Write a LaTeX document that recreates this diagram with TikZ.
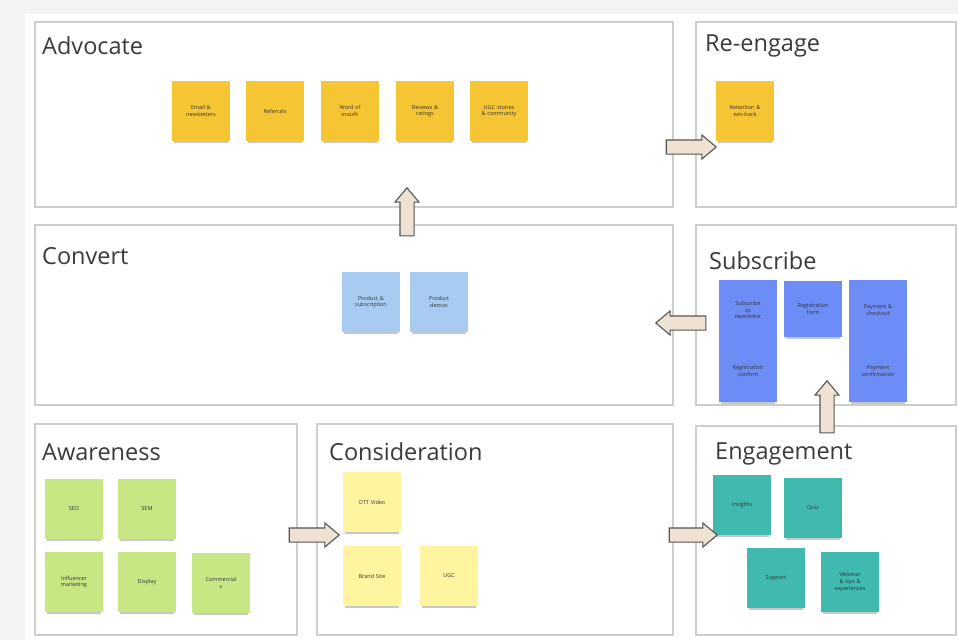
\documentclass[tikz,border=0pt]{standalone}
\usepackage{fontspec}
\setmainfont{Open Sans}
\usetikzlibrary{shapes.arrows,shadows}
\definecolor{bggray}{HTML}{F3F3F3}
\definecolor{boxline}{HTML}{CDCDCD}
\definecolor{titlecol}{HTML}{3A3A3A}
\definecolor{stYellow}{HTML}{F6C534}
\definecolor{stLightBlue}{HTML}{A8CCF1}
\definecolor{stBlue}{HTML}{6D8DF6}
\definecolor{stTeal}{HTML}{40BAAF}
\definecolor{stGreen}{HTML}{C7E785}
\definecolor{stPale}{HTML}{FFF49F}
\definecolor{arrowfill}{HTML}{EFE2D2}
\definecolor{arrowline}{HTML}{555555}
\tikzset{
  stage/.style={draw=boxline, line width=1.1pt, fill=white},
  stagetitle/.style={anchor=west, font=\fontsize{23.5}{25}\selectfont, text=titlecol, inner sep=0pt},
  sticky/.style={minimum width=58pt, minimum height=60pt, inner sep=1pt, text width=52pt, align=center,
    font=\fontsize{5.5}{6.6}\selectfont, text=black!80,
    general shadow={fill=black!70, opacity=.3, shadow yshift=-4pt, shadow scale=.94}},
  blockarrow/.style={single arrow, draw=arrowline, fill=arrowfill, line width=1.1pt,
    inner sep=6.5pt, single arrow head extend=5pt, single arrow tip angle=80, minimum height=#1},
}
\begin{document}
\begin{tikzpicture}[x=1pt,y=-1pt]
\useasboundingbox (0,0) rectangle (958,640);
\fill[bggray] (0,0) rectangle (958,640);
\fill[white] (25,14) rectangle (958,640);

% stage boxes
\draw[stage] (35,22) rectangle (673,207);
\draw[stage] (696,22) rectangle (956,207);
\draw[stage] (35,225) rectangle (673,405);
\draw[stage] (696,225) rectangle (956,405);
\draw[stage] (35,424) rectangle (297,635);
\draw[stage] (317,424) rectangle (673,635);
\draw[stage] (696,426) rectangle (956,635);

% titles
\node[stagetitle] (tAdv) at (42,46) {Advocate};
\node[stagetitle] (tRe) at (705,46) {Re-engage};
\node[stagetitle] (tConv) at (42,256) {Convert};
\node[stagetitle] (tSub) at (709,261) {Subscribe};
\node[stagetitle] (tAw) at (42,452) {Awareness};
\node[stagetitle] (tCons) at (329,452) {Consideration};
\node[stagetitle] (tEng) at (715,454) {Engagement};

% Advocate stickies
\node[sticky, fill=stYellow] (ad1) at (201,111) {Email \&\\ newsletters};
\node[sticky, fill=stYellow] (ad2) at (275,111) {Referrals};
\node[sticky, fill=stYellow] (ad3) at (350,111) {Word of\\ mouth};
\node[sticky, fill=stYellow] (ad4) at (425,111) {Reviews \&\\ ratings};
\node[sticky, fill=stYellow] (ad5) at (499,111) {UGC stories\\ \& community};
% Re-engage
\node[sticky, fill=stYellow] (re1) at (745,111) {Retention \&\\ win-back};

% Convert
\node[sticky, fill=stLightBlue] (cv1) at (371,302) {Product \&\\ subscription};
\node[sticky, fill=stLightBlue] (cv2) at (439,302) {Product\\ demos};

% Subscribe
\node[sticky, fill=stBlue, minimum height=60pt] (sb1) at (748,310) {Subscribe\\ to\\ newsletter};
\node[sticky, fill=stBlue, minimum height=62pt] (sb4) at (748,371) {Registration\\ confirm};
\node[sticky, fill=stBlue, minimum height=56pt] (sb2) at (813,309) {Registration\\ form};
\node[sticky, fill=stBlue, minimum height=60pt] (sb3) at (878,310) {Payment \&\\ checkout};
\node[sticky, fill=stBlue, minimum height=62pt] (sb5) at (878,371) {Payment\\ confirmation};

% Awareness
\node[sticky, fill=stGreen] (aw1) at (74,509) {SEO};
\node[sticky, fill=stGreen] (aw2) at (147,509) {SEM};
\node[sticky, fill=stGreen] (aw3) at (74,582) {Influencer\\ marketing};
\node[sticky, fill=stGreen] (aw4) at (147,582) {Display};
\node[sticky, fill=stGreen] (aw5) at (221,583) {Commercial\\ s};

% Consideration
\node[sticky, fill=stPale] (cs1) at (372,502) {OTT Video};
\node[sticky, fill=stPale] (cs2) at (372,576) {Brand Site};
\node[sticky, fill=stPale] (cs3) at (449,576) {UGC};

% Engagement
\node[sticky, fill=stTeal] (en1) at (742,505) {Insights};
\node[sticky, fill=stTeal] (en2) at (813,508) {Quiz};
\node[sticky, fill=stTeal] (en3) at (776,578) {Support};
\node[sticky, fill=stTeal] (en4) at (850,582) {Webinar\\ \& tips \&\\ experiences};

% block arrows
\node[blockarrow=50pt] (a1) at (687,147) {};
\node[blockarrow=48pt, shape border rotate=90] (a2) at (407,216) {};
\node[blockarrow=50pt, shape border rotate=180] (a3) at (685,323) {};
\node[blockarrow=52pt, shape border rotate=90] (a4) at (827,411) {};
\node[blockarrow=50pt] (a5) at (310,535) {};
\node[blockarrow=48pt] (a6) at (689,535) {};
\end{tikzpicture}
\end{document}
